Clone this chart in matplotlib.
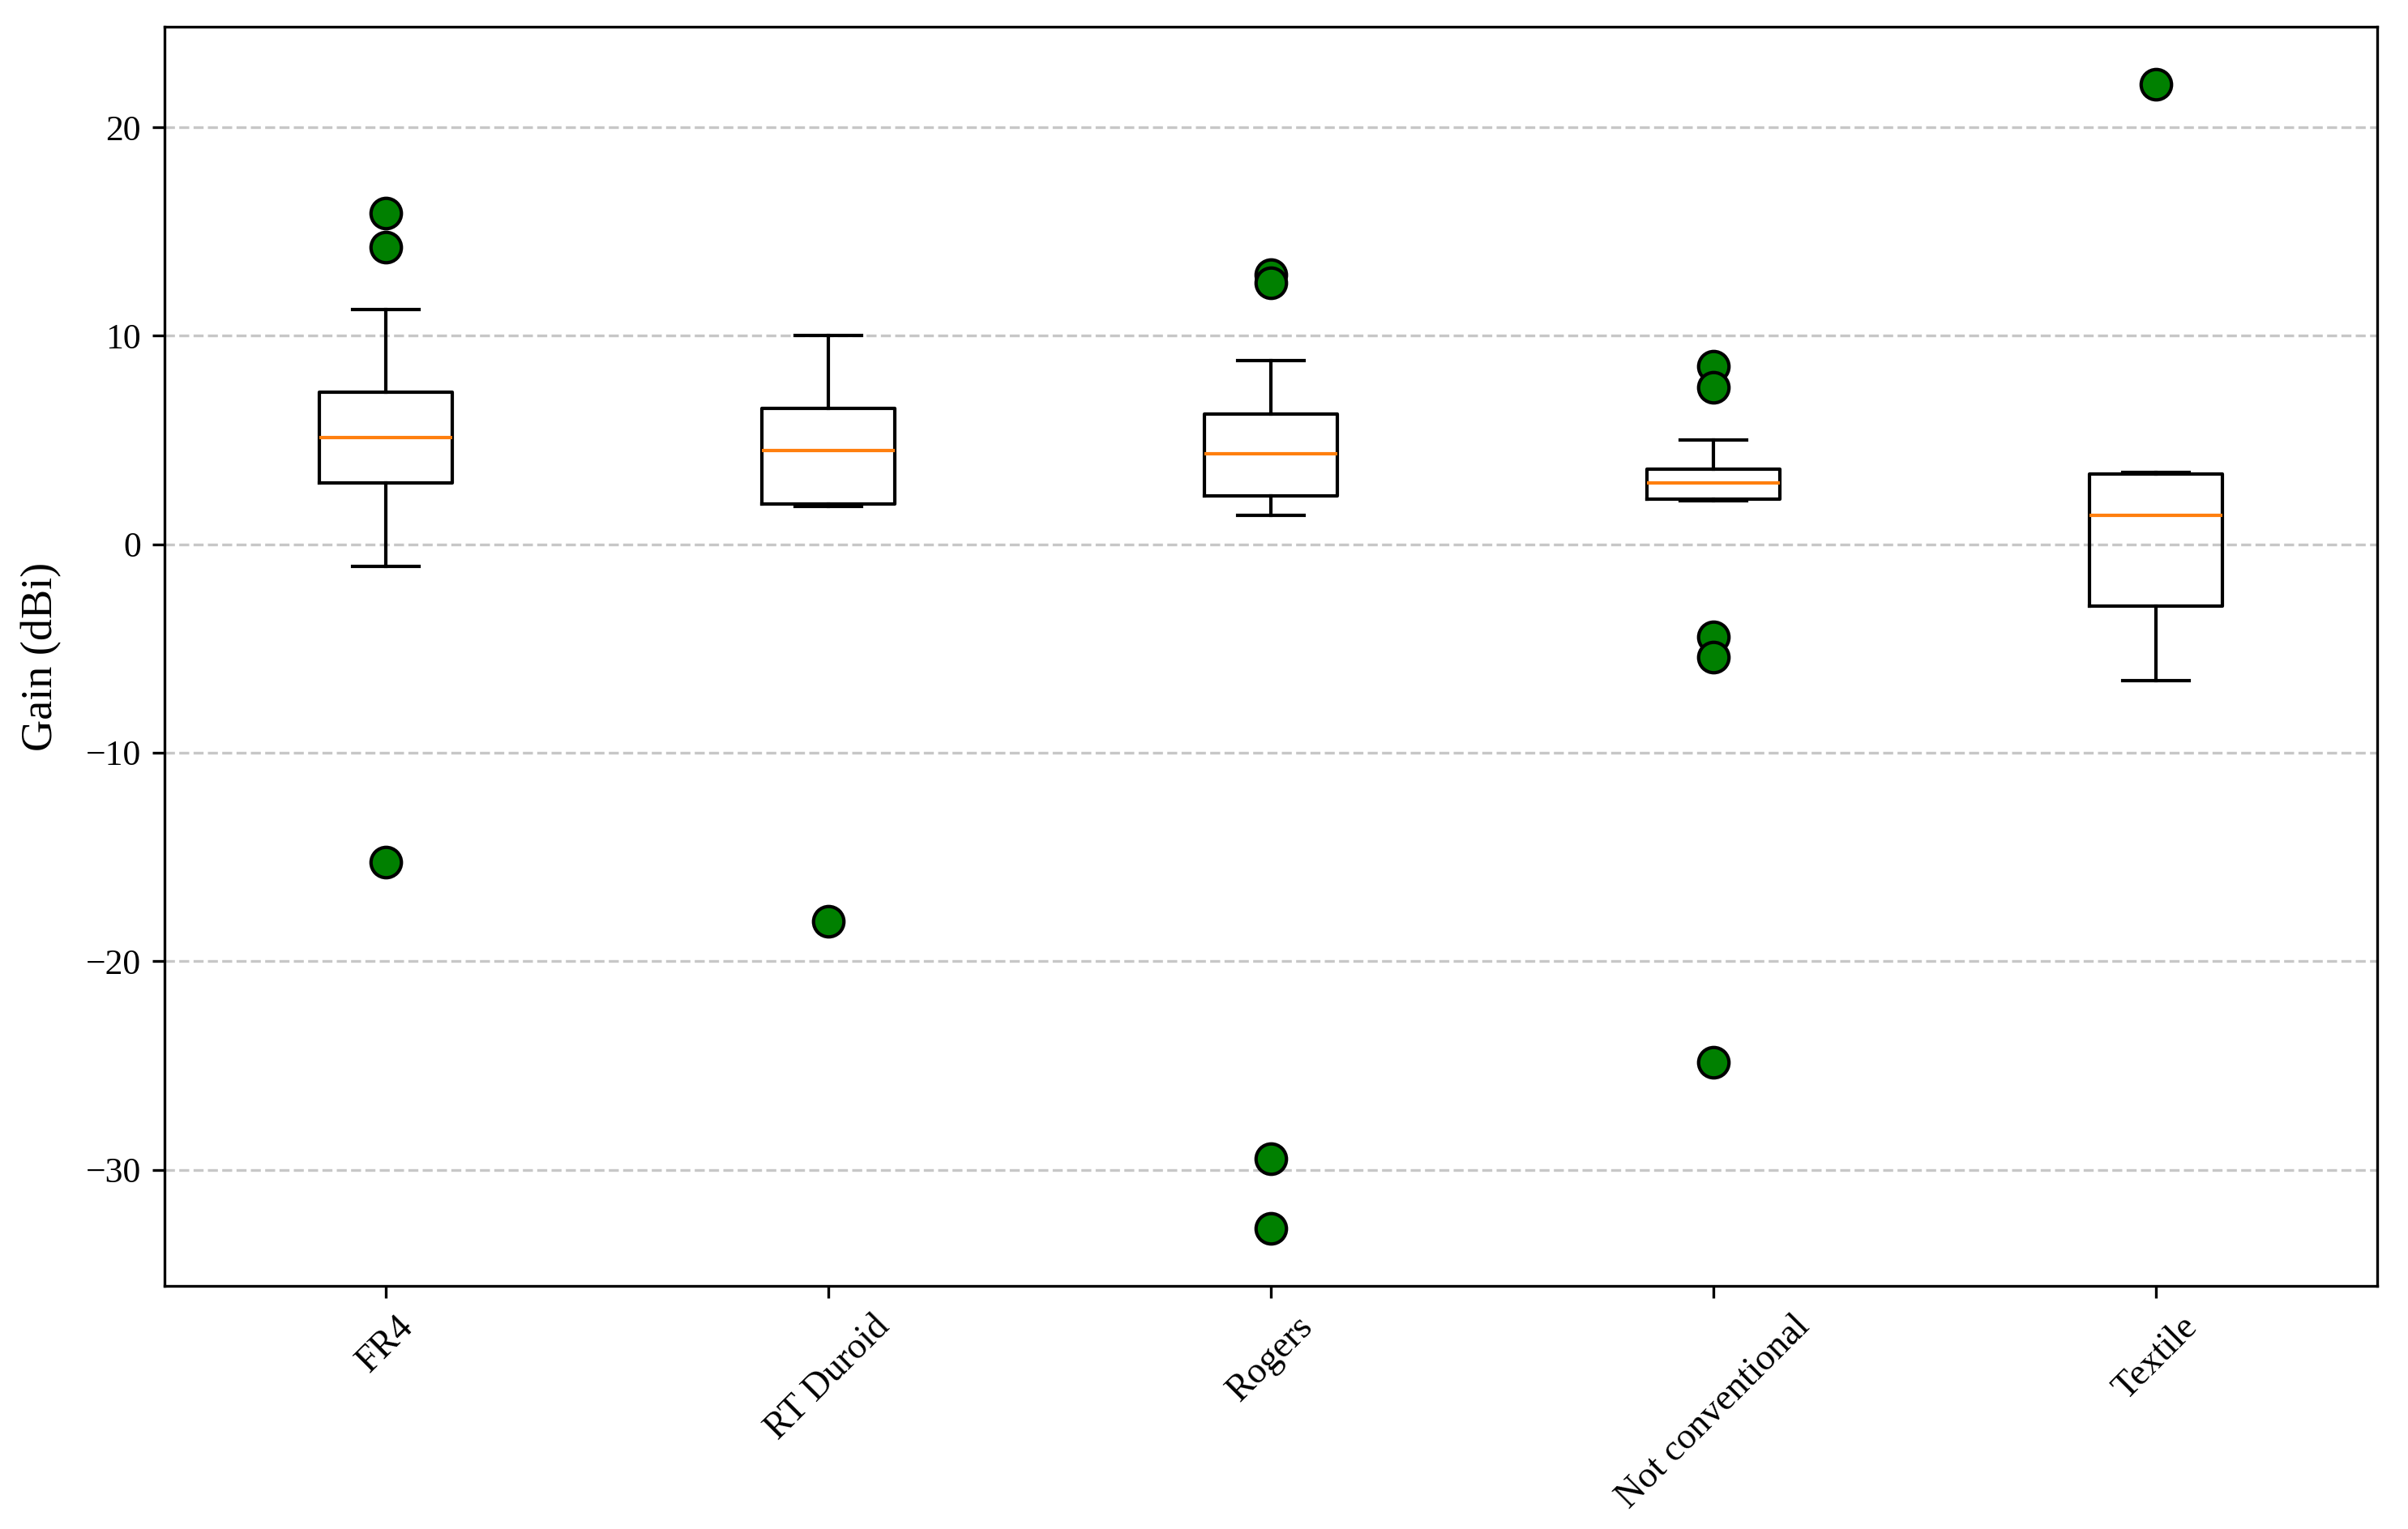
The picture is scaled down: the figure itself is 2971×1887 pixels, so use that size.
import matplotlib
matplotlib.use("Agg")
import matplotlib.pyplot as plt
from matplotlib import font_manager

# Times-like font, take the first one that is installed
names = set(f.name for f in font_manager.fontManager.ttflist)
serif = [n for n in ['Liberation Serif', 'Times New Roman', 'Tinos', 'Nimbus Roman'] if n in names]
plt.rcParams['font.family'] = serif + ['DejaVu Serif']

# substrate categories
labels = ['FR4', 'RT Duroid', 'Rogers', 'Not conventional', 'Textile']

# box statistics (dBi)
medians = [5.12, 4.49, 4.36, 2.95, 1.39]
q1 = [2.96, 1.93, 2.31, 2.16, -2.95]
q3 = [7.30, 6.53, 6.26, 3.59, 3.36]
whis_lo = [-1.05, 1.83, 1.39, 2.08, -6.56]
whis_hi = [11.27, 10.0, 8.82, 5.0, 3.45]
outliers = [
    [15.9, 14.24, -15.25],
    [-18.09],
    [12.93, 12.55, -29.48, -32.83],
    [8.54, 7.54, -4.43, -5.43, -24.85],
    [22.08],
]

stats = []
for i in range(len(labels)):
    stats.append({'med': medians[i], 'q1': q1[i], 'q3': q3[i],
                  'whislo': whis_lo[i], 'whishi': whis_hi[i],
                  'fliers': outliers[i], 'label': labels[i]})

fig = plt.figure(figsize=(2971 / 300, 1887 / 300), dpi=300)
ax = fig.add_axes([0.0683, 0.159, 0.9189, 0.8235])

pos = list(range(1, len(labels) + 1))
ax.bxp(stats, positions=pos, widths=0.3,
       flierprops=dict(marker='o', markerfacecolor='green',
                       markeredgecolor='black', markersize=9))

ax.set_xticks(pos)
ax.set_xticklabels(labels, rotation=45, fontsize=11)
ax.tick_params(axis='y', labelsize=10.5)
ax.set_ylabel('Gain (dBi)', fontsize=13, labelpad=7)
ax.yaxis.grid(True, linestyle='--', alpha=0.7)
ax.set_axisbelow(True)

fig.savefig('out.png', dpi=300)
